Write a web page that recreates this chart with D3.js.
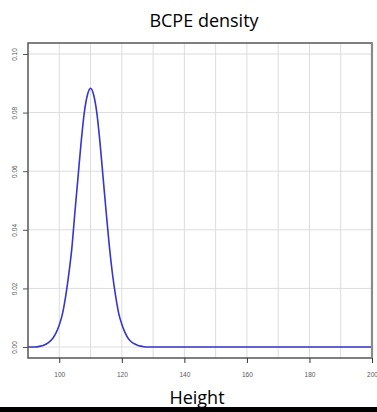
<!DOCTYPE html>
<html><head><meta charset="utf-8">
<script src="https://cdn.jsdelivr.net/npm/d3@7"></script>
<style>body{margin:0;background:#fff}svg{display:block}</style>
</head><body>
<svg id="c" width="377" height="412"></svg>
<script>
const heights = [90,92,94,95,96,97,98,99,100,101,102,103,104,105,106,107,108,109,110,111,112,113,114,115,116,117,118,119,120,121,122,123,124,125,126,127,128,130,200];
const density = [0,0,0.0003,0.0006,0.0011,0.0019,0.0031,0.0049,0.0075,0.0112,0.0170,0.0245,0.0335,0.0460,0.0580,0.0700,0.0800,0.0860,0.0883,0.0860,0.0800,0.0700,0.0580,0.0460,0.0345,0.0250,0.0175,0.0115,0.0078,0.0050,0.0030,0.0018,0.0011,0.0006,0.0003,0.0001,0,0,0];
const xTicks = [100,120,140,160,180,200];
const xGrid = [100,110,120,130,140,150,160,170,180,190,200];
const yTicks = [0,0.02,0.04,0.06,0.08,0.10];
const title = "BCPE density";
const xLabel = "Height";

const svg = d3.select("#c");
const L=28, R=372, T=43, B=358;
const x = d3.scaleLinear().domain([90,200]).range([L,R]);
const y = d3.scaleLinear().domain([-0.00375,0.10375]).range([B,T]);

const g = svg.append("g");
g.selectAll(".vg").data(xGrid).join("line")
  .attr("x1",d=>x(d)).attr("x2",d=>x(d)).attr("y1",T).attr("y2",B)
  .attr("stroke","#dcdcdc").attr("stroke-width",1);
g.selectAll(".hg").data(yTicks).join("line")
  .attr("y1",d=>y(d)).attr("y2",d=>y(d)).attr("x1",L).attr("x2",R)
  .attr("stroke","#dcdcdc").attr("stroke-width",1);

svg.append("clipPath").attr("id","cp").append("rect").attr("x",L).attr("y",T).attr("width",R-L).attr("height",B-T);
const line = d3.line().x((d,i)=>x(heights[i])).y(d=>y(d)).curve(d3.curveMonotoneX);
svg.append("path").datum(density).attr("d",line).attr("clip-path","url(#cp)")
  .attr("fill","none").attr("stroke","#3535d0").attr("stroke-width",1.6);

// box
svg.append("rect").attr("x",L).attr("y",T).attr("width",R-L).attr("height",B-T)
  .attr("fill","none").attr("stroke","#555").attr("stroke-width",1.5);
svg.append("line").attr("x1",R).attr("x2",R).attr("y1",T).attr("y2",B).attr("stroke","#8a8a8a").attr("stroke-width",2.2);

const xa = svg.append("g").attr("transform",`translate(0,${B})`)
  .call(d3.axisBottom(x).tickValues(xTicks).tickSize(5).tickPadding(9).tickFormat(d3.format("d")));
xa.select(".domain").remove();
xa.selectAll("line").attr("stroke","#333");
xa.selectAll("text").attr("font-family","Liberation Sans, Arial, sans-serif").attr("font-size","6.5px").attr("fill","#555");

const ya = svg.append("g").attr("transform",`translate(${L},0)`)
  .call(d3.axisLeft(y).tickValues(yTicks).tickSize(5).tickFormat(d3.format(".2f")));
ya.select(".domain").remove();
ya.selectAll("line").attr("stroke","#555");
ya.selectAll("text").attr("font-family","Liberation Sans, Arial, sans-serif").attr("font-size","6.5px").attr("fill","#555")
  .attr("text-anchor","middle").attr("dy",null).attr("x",null)
  .attr("transform","translate(-14,0) rotate(-90)").attr("dominant-baseline","central");

svg.append("text").attr("x",204).attr("y",27).attr("text-anchor","middle")
  .attr("font-family","Open Sans, Liberation Sans, sans-serif").attr("font-size","18px").attr("fill","#000").text(title);
svg.append("text").attr("x",197).attr("y",404).attr("text-anchor","middle")
  .attr("font-family","Open Sans, Liberation Sans, sans-serif").attr("font-size","18px").attr("fill","#000").text(xLabel);
svg.append("rect").attr("x",0).attr("y",407).attr("width",377).attr("height",5).attr("fill","#000");
</script>
</body></html>
